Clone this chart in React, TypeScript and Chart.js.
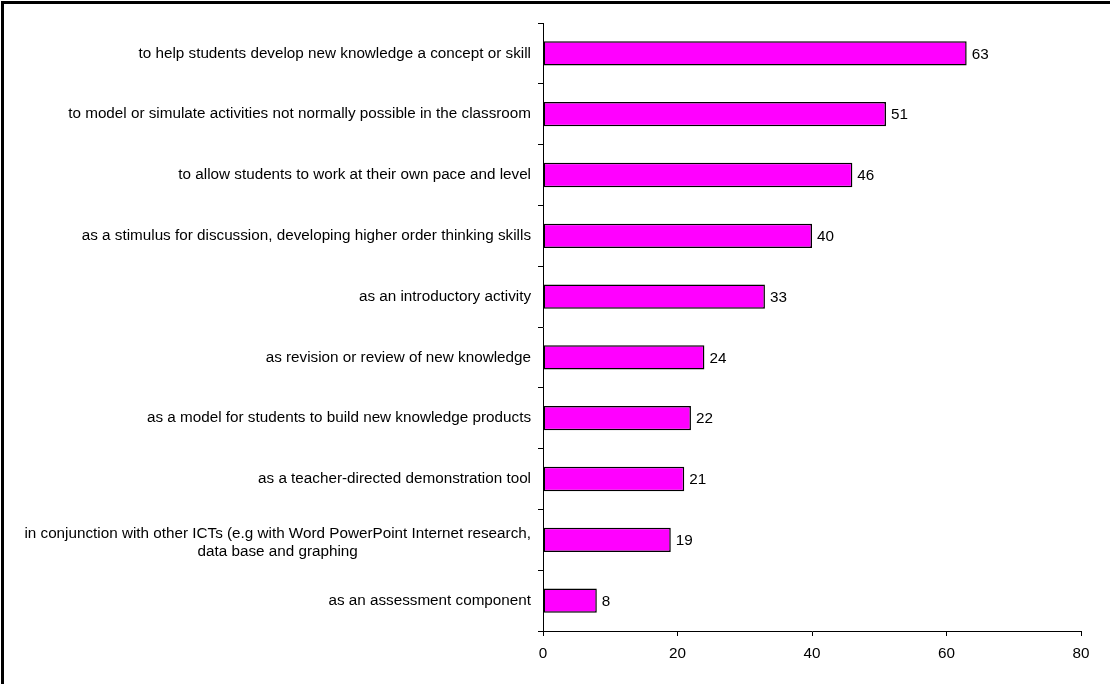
import React, { useEffect, useRef } from "react";
import { Chart, registerables } from "chart.js";

Chart.register(...registerables);

const categories: string[][] = [
  ["to help students develop new knowledge a concept or skill"],
  ["to model or simulate activities not normally possible in the classroom"],
  ["to allow students to work at their own pace and level"],
  ["as a stimulus for discussion, developing higher order thinking skills"],
  ["as an introductory activity"],
  ["as revision or review of new knowledge"],
  ["as a model for students to build new knowledge products"],
  ["as a teacher-directed demonstration tool"],
  ["in conjunction with other ICTs (e.g with Word PowerPoint Internet research,", "data base and graphing"],
  ["as an assessment component"],
];
const values = [63, 51, 46, 40, 33, 24, 22, 21, 19, 8];
const xMin = 0;
const xMax = 80;
const xStep = 20;

const FONT = '"Liberation Sans", Arial, Helvetica, sans-serif';

export default function App() {
  const ref = useRef<HTMLCanvasElement | null>(null);

  useEffect(() => {
    if (!ref.current) return;
    const labelPlugin = {
      id: "customLabels",
      afterDraw(chart: any) {
        const ctx = chart.ctx;
        const yScale = chart.scales.y;
        ctx.save();
        ctx.fillStyle = "#000";
        ctx.font = `15.25px ${FONT}`;
        ctx.textBaseline = "middle";
        // category labels
        categories.forEach((lines, i) => {
          const y = yScale.getPixelForValue(i);
          const maxW = Math.max(...lines.map((l) => ctx.measureText(l).width));
          const right = chart.chartArea.left - 12;
          const cx = right - maxW / 2;
          ctx.textAlign = "center";
          const shift = lines.length > 1 ? 3 : 0;
          lines.forEach((l, j) => {
            ctx.fillText(l, cx, y + shift + (j - (lines.length - 1) / 2) * 18);
          });
        });
        // value labels
        const meta = chart.getDatasetMeta(0);
        ctx.textAlign = "left";
        meta.data.forEach((el: any, i: number) => {
          ctx.fillText(String(values[i]), el.x + 5, el.y + 1);
        });
        // frame (top and left edges)
        ctx.fillStyle = "#000";
        ctx.fillRect(1, 1, 3, chart.height);
        ctx.fillRect(1, 1, chart.width, 3);
        ctx.restore();
      },
    };

    const chart = new Chart(ref.current, {
      type: "bar",
      data: {
        labels: categories,
        datasets: [
          {
            data: values,
            backgroundColor: "#FF00FF",
            borderColor: "#000000",
            borderWidth: 1.5,
            borderSkipped: false,
            barPercentage: 0.4,
            categoryPercentage: 1,
          },
        ],
      },
      options: {
        indexAxis: "y",
        responsive: false,
        animation: false,
        layout: { padding: { top: 23, right: 29, left: 0, bottom: 0 } },
        plugins: {
          legend: { display: false },
          tooltip: { enabled: false },
        },
        scales: {
          y: {
            type: "category",
            offset: true,
            ticks: { display: false },
            grid: {
              offset: true,
              drawOnChartArea: false,
              drawTicks: true,
              tickLength: 5,
              color: "#000",
            },
            border: { display: true, color: "#000", width: 1 },
            afterFit(scale: any) {
              scale.width = 543;
            },
          },
          x: {
            type: "linear",
            min: xMin,
            max: xMax,
            ticks: {
              stepSize: xStep,
              color: "#000",
              font: { family: FONT, size: 15.25 },
              padding: 9,
            },
            grid: {
              drawOnChartArea: false,
              drawTicks: true,
              tickLength: 5,
              color: "#000",
            },
            border: { display: true, color: "#000", width: 1 },
            afterFit(scale: any) {
              scale.height = 53;
            },
          },
        },
      },
      plugins: [labelPlugin],
    } as any);
    return () => chart.destroy();
  }, []);

  return (
    <div style={{ position: "fixed", left: 0, top: 0, width: 1110, height: 684, background: "#fff" }}>
      <canvas ref={ref} width={1110} height={684} style={{ width: 1110, height: 684, display: "block" }} />
    </div>
  );
}
